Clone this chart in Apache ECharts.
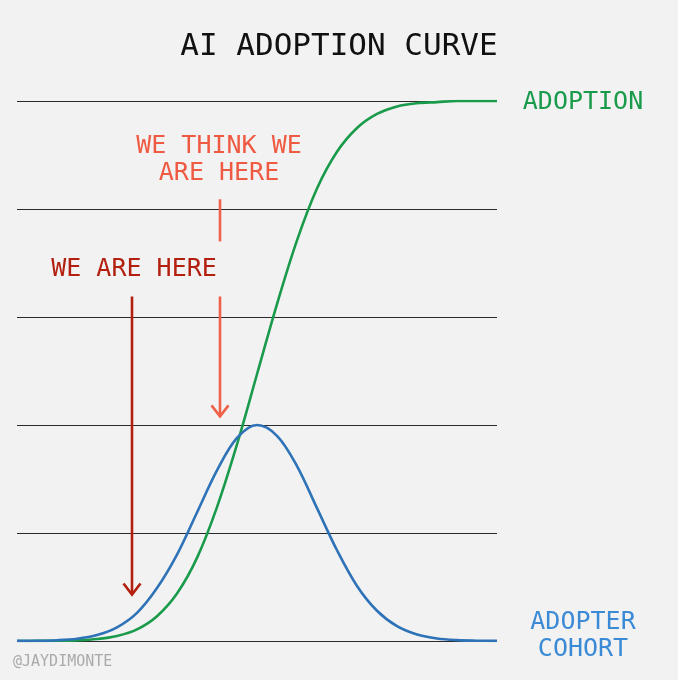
<!DOCTYPE html>
<html>
<head>
<meta charset="utf-8">
<script src="https://cdn.jsdelivr.net/npm/echarts@6/dist/echarts.min.js"></script>
<style>
html,body{margin:0;padding:0;background:#f2f2f2;}
#c{width:678px;height:680px;}
</style>
</head>
<body>
<div id="c"></div>
<script>
// x positions (arbitrary time units)
const xs = [0,20,40,60,80,100,120,140,160,180,200,220,240,260,280,300,320,340,360,380,400,420,440,460,480];
// cumulative adoption (green)
const adoption = [0,0.001,0.002,0.006,0.018,0.047,0.108,0.23,0.44,0.77,1.24,1.82,2.47,3.12,3.71,4.19,4.53,4.75,4.88,4.95,4.98,4.99,5,5,5];
// adopter cohort (blue bell)
const cohort = [0.001,0.002,0.007,0.021,0.055,0.126,0.26,0.49,0.80,1.19,1.58,1.88,2.0,1.90,1.62,1.23,0.84,0.51,0.28,0.137,0.06,0.023,0.008,0.003,0.001];
// annotation arrows
const arrowX = [115, 203, 203];
const arrowFrom = [3.19, 4.09, 3.19];
const arrowTo = [0.43, 3.70, 2.08];
const arrowHead = [1, 0, 1];
const arrowColor = ['#b3200f', '#ef6049', '#ef6049'];

const FONT = '"DejaVu Sans Mono", "Liberation Mono", monospace';

const chart = echarts.init(document.getElementById('c'));
const arrowData = arrowX.map((x, i) => [x, arrowFrom[i], arrowTo[i], arrowHead[i], i]);

chart.setOption({
  backgroundColor: '#f2f2f2',
  animation: false,
  grid: {left: 17, right: 181, top: 101, bottom: 39},
  xAxis: {type: 'value', min: 0, max: 480, show: false},
  yAxis: {
    type: 'value', min: 0, max: 5, interval: 1,
    axisLine: {show: false}, axisTick: {show: false}, axisLabel: {show: false},
    splitLine: {lineStyle: {color: '#2a2a2a', width: 1}}
  },
  graphic: [
    {type: 'text', style: {text: 'AI ADOPTION CURVE', x: 339, y: 47, align: 'center', verticalAlign: 'middle', fill: '#111111', font: '31px ' + FONT}},
    {type: 'text', style: {text: 'ADOPTION', x: 583, y: 102, align: 'center', verticalAlign: 'middle', fill: '#1a9b4b', font: '25px ' + FONT}},
    {type: 'text', style: {text: 'ADOPTER\nCOHORT', x: 583, y: 636, align: 'center', verticalAlign: 'middle', lineHeight: 27, fill: '#3a8ad6', font: '25px ' + FONT}},
    {type: 'text', style: {text: 'WE THINK WE\nARE HERE', x: 219, y: 160, align: 'center', verticalAlign: 'middle', lineHeight: 27, fill: '#ef5a43', font: '25px ' + FONT}},
    {type: 'text', style: {text: 'WE ARE HERE', x: 134, y: 269, align: 'center', verticalAlign: 'middle', fill: '#b3200f', font: '25px ' + FONT}},
    {type: 'text', style: {text: '@JAYDIMONTE', x: 13, y: 662, align: 'left', verticalAlign: 'middle', fill: '#aaaaaa', font: '15px ' + FONT}}
  ],
  series: [
    {
      type: 'line', data: xs.map((x, i) => [x, adoption[i]]),
      smooth: 0.35, showSymbol: false,
      lineStyle: {color: '#1a9b4b', width: 2.6}, z: 3
    },
    {
      type: 'line', data: xs.map((x, i) => [x, cohort[i]]),
      smooth: 0.35, showSymbol: false,
      lineStyle: {color: '#2e72b8', width: 2.6}, z: 4
    },
    {
      type: 'custom', clip: false, data: arrowData, z: 5,
      renderItem: function (params, api) {
        const x = api.value(0);
        const p1 = api.coord([x, api.value(1)]);
        const p2 = api.coord([x, api.value(2)]);
        const col = arrowColor[api.value(4)];
        const children = [{
          type: 'line',
          shape: {x1: p1[0], y1: p1[1], x2: p2[0], y2: p2[1]},
          style: {stroke: col, lineWidth: 2.6}
        }];
        if (api.value(3)) {
          children.push({
            type: 'polyline',
            shape: {points: [[p2[0] - 8.5, p2[1] - 11], [p2[0], p2[1]], [p2[0] + 8.5, p2[1] - 11]]},
            style: {stroke: col, lineWidth: 2.6, fill: null}
          });
        }
        return {type: 'group', children: children};
      }
    }
  ]
});
</script>
</body>
</html>
